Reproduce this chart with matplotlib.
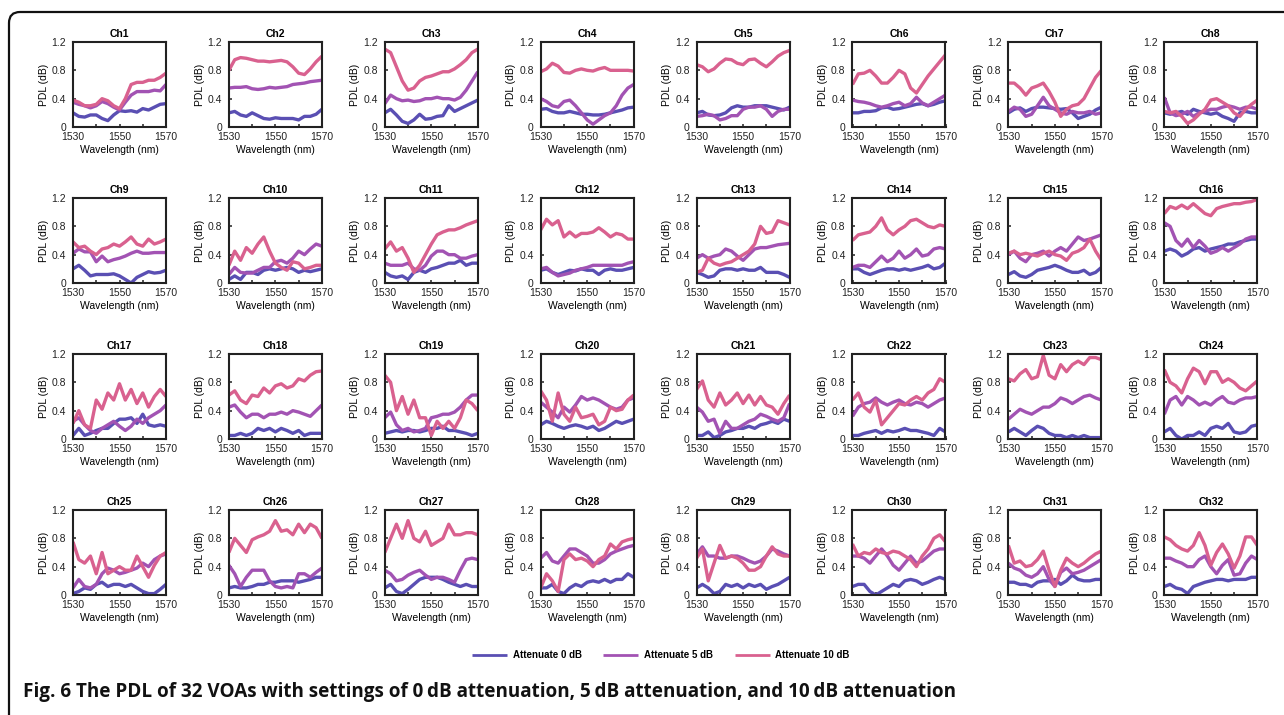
import matplotlib
matplotlib.use("Agg")
import matplotlib.pyplot as plt
from matplotlib.path import Path
from matplotlib.patches import PathPatch
from matplotlib.transforms import IdentityTransform

plt.rcParams["font.family"] = ["Liberation Sans", "DejaVu Sans"]

# sampled wavelengths (nm)
WAVELENGTH = [1530, 1532.5, 1535, 1537.5, 1540, 1542.5, 1545, 1547.5, 1550,
              1552.5, 1555, 1557.5, 1560, 1562.5, 1565, 1567.5, 1570]

CHANNELS = ["Ch%d" % i for i in range(1, 33)]
SERIES_LABELS = ["Attenuate 0 dB", "Attenuate 5 dB", "Attenuate 10 dB"]

# PDL (dB), attenuation 0 dB
PDL_0DB = [
    [.20, .15, .14, .17, .17, .12, .09, .17, .23, .22, .23, .21, .26, .24, .28, .32, .33],
    [.20, .22, .17, .15, .20, .16, .12, .11, .13, .12, .12, .12, .10, .15, .15, .18, .25],
    [.20, .25, .17, .08, .05, .10, .18, .11, .12, .15, .16, .30, .22, .26, .30, .34, .38],
    [.25, .26, .22, .20, .20, .22, .20, .18, .18, .17, .17, .18, .20, .22, .24, .27, .28],
    [.20, .22, .17, .16, .17, .20, .27, .30, .28, .28, .30, .30, .30, .28, .26, .24, .28],
    [.20, .20, .22, .22, .23, .27, .28, .25, .26, .28, .30, .32, .33, .30, .32, .35, .37],
    [.20, .25, .27, .22, .26, .28, .28, .27, .26, .25, .26, .20, .12, .15, .18, .24, .28],
    [.20, .18, .20, .22, .18, .25, .22, .20, .18, .20, .15, .12, .08, .20, .22, .20, .20],
    [.20, .25, .18, .10, .12, .12, .12, .13, .10, .05, .00, .08, .12, .16, .14, .15, .18],
    [.05, .10, .05, .15, .15, .12, .18, .20, .18, .20, .22, .20, .15, .18, .16, .18, .20],
    [.15, .10, .08, .10, .05, .15, .18, .15, .20, .22, .25, .28, .28, .32, .25, .28, .28],
    [.18, .20, .15, .12, .15, .18, .17, .20, .18, .18, .12, .18, .20, .18, .18, .20, .22],
    [.15, .12, .08, .10, .18, .20, .20, .18, .20, .18, .18, .22, .15, .15, .15, .12, .08],
    [.20, .20, .15, .12, .15, .18, .20, .20, .18, .20, .18, .20, .22, .25, .20, .22, .28],
    [.12, .16, .10, .08, .12, .18, .20, .22, .25, .22, .18, .15, .15, .18, .12, .15, .22],
    [.45, .48, .45, .38, .42, .48, .50, .45, .48, .50, .52, .55, .55, .58, .60, .62, .62],
    [.05, .15, .05, .08, .12, .15, .15, .22, .28, .28, .30, .22, .35, .20, .18, .20, .18],
    [.05, .05, .08, .05, .08, .15, .12, .15, .10, .15, .12, .08, .12, .05, .08, .08, .08],
    [.08, .10, .12, .10, .12, .12, .10, .12, .15, .15, .18, .12, .12, .10, .08, .05, .08],
    [.20, .25, .22, .18, .15, .18, .20, .18, .15, .18, .12, .15, .20, .25, .22, .25, .28],
    [.05, .05, .10, .02, .05, .10, .12, .15, .15, .18, .15, .20, .22, .25, .22, .28, .25],
    [.05, .05, .08, .10, .12, .08, .12, .10, .12, .15, .12, .12, .10, .08, .05, .15, .10],
    [.10, .15, .10, .05, .12, .18, .15, .08, .05, .05, .02, .05, .02, .05, .02, .02, .02],
    [.10, .15, .05, .00, .05, .05, .10, .05, .15, .18, .15, .22, .10, .08, .10, .18, .20],
    [.02, .05, .10, .08, .15, .18, .12, .15, .15, .12, .15, .10, .05, .02, .02, .08, .15],
    [.10, .12, .10, .10, .12, .15, .15, .18, .18, .20, .20, .20, .18, .20, .22, .25, .25],
    [.10, .15, .05, .02, .08, .15, .22, .25, .25, .25, .22, .18, .15, .12, .15, .12, .12],
    [.10, .10, .15, .05, .02, .10, .15, .12, .18, .20, .18, .22, .18, .22, .22, .30, .25],
    [.10, .15, .10, .02, .05, .15, .12, .15, .10, .15, .12, .15, .08, .12, .15, .20, .25],
    [.12, .15, .15, .05, .00, .05, .10, .15, .12, .20, .22, .20, .15, .18, .22, .25, .22],
    [.18, .18, .15, .15, .12, .18, .20, .20, .22, .15, .20, .28, .22, .20, .20, .22, .22],
    [.12, .15, .10, .08, .02, .12, .15, .18, .20, .22, .22, .20, .22, .22, .22, .25, .25],
]

# PDL (dB), attenuation 5 dB
PDL_5DB = [
    [.35, .32, .30, .27, .30, .36, .33, .28, .24, .35, .45, .50, .50, .50, .52, .51, .60],
    [.55, .56, .56, .57, .54, .53, .54, .56, .55, .56, .57, .60, .61, .62, .64, .65, .66],
    [.33, .45, .40, .37, .38, .36, .37, .40, .40, .42, .40, .40, .38, .42, .52, .65, .78],
    [.40, .36, .30, .28, .36, .38, .30, .20, .10, .04, .10, .16, .20, .30, .45, .55, .60],
    [.15, .16, .18, .16, .10, .12, .16, .16, .25, .28, .28, .30, .25, .15, .22, .25, .25],
    [.38, .36, .35, .33, .30, .28, .30, .33, .35, .30, .33, .42, .34, .30, .35, .40, .45],
    [.22, .28, .25, .15, .18, .30, .42, .30, .25, .20, .18, .22, .20, .20, .22, .18, .20],
    [.42, .20, .16, .18, .22, .15, .20, .22, .25, .25, .28, .30, .28, .25, .28, .28, .25],
    [.42, .48, .44, .44, .30, .38, .30, .33, .35, .38, .42, .45, .42, .42, .43, .43, .43],
    [.12, .22, .15, .14, .14, .18, .22, .22, .30, .32, .28, .35, .45, .40, .48, .55, .52],
    [.28, .25, .25, .25, .28, .20, .18, .25, .38, .45, .45, .40, .40, .35, .35, .38, .40],
    [.20, .22, .15, .10, .12, .14, .18, .20, .22, .25, .25, .25, .25, .25, .25, .28, .30],
    [.35, .40, .35, .38, .40, .48, .45, .38, .32, .40, .48, .50, .50, .52, .54, .55, .56],
    [.22, .25, .25, .22, .30, .38, .30, .35, .45, .35, .40, .48, .38, .40, .48, .50, .48],
    [.40, .45, .35, .30, .40, .42, .45, .38, .45, .50, .45, .55, .65, .60, .62, .65, .68],
    [.85, .80, .60, .52, .62, .50, .60, .52, .42, .45, .50, .45, .50, .55, .62, .65, .65],
    [.25, .30, .20, .12, .08, .15, .20, .25, .18, .12, .18, .28, .22, .30, .35, .40, .48],
    [.45, .48, .38, .30, .35, .35, .30, .35, .35, .38, .35, .40, .38, .35, .32, .40, .48],
    [.30, .38, .20, .12, .15, .10, .12, .15, .30, .32, .35, .35, .38, .45, .55, .62, .62],
    [.52, .45, .38, .30, .45, .38, .48, .60, .55, .58, .55, .50, .45, .42, .45, .55, .58],
    [.45, .38, .25, .28, .08, .25, .15, .15, .20, .25, .28, .35, .32, .28, .25, .30, .50],
    [.32, .45, .50, .52, .58, .52, .48, .52, .55, .50, .48, .52, .50, .45, .50, .55, .58],
    [.28, .35, .42, .38, .35, .40, .45, .45, .50, .58, .55, .50, .55, .60, .62, .58, .55],
    [.35, .55, .60, .48, .60, .55, .48, .52, .48, .55, .60, .52, .50, .55, .58, .58, .60],
    [.10, .22, .12, .10, .15, .30, .38, .35, .30, .32, .35, .38, .45, .40, .50, .55, .58],
    [.42, .30, .12, .25, .35, .35, .35, .20, .12, .10, .12, .10, .30, .30, .25, .32, .38],
    [.35, .30, .20, .22, .28, .32, .35, .28, .22, .25, .25, .22, .18, .35, .50, .52, .50],
    [.52, .60, .48, .45, .55, .65, .65, .60, .55, .45, .45, .50, .58, .62, .65, .68, .70],
    [.58, .68, .55, .55, .52, .52, .55, .55, .52, .48, .45, .48, .55, .65, .62, .58, .55],
    [.55, .55, .52, .45, .55, .65, .55, .42, .35, .45, .55, .45, .48, .55, .62, .65, .65],
    [.45, .38, .35, .28, .25, .30, .40, .22, .12, .32, .38, .30, .32, .35, .40, .45, .50],
    [.52, .52, .48, .45, .40, .40, .50, .55, .40, .30, .42, .50, .28, .30, .45, .55, .50],
]

# PDL (dB), attenuation 10 dB
PDL_10DB = [
    [.38, .35, .30, .30, .32, .40, .37, .30, .26, .40, .60, .63, .63, .66, .66, .70, .76],
    [.80, .95, .98, .97, .95, .93, .93, .92, .93, .94, .92, .85, .76, .74, .82, .92, 1.0],
    [1.10, 1.05, .85, .65, .52, .55, .65, .70, .72, .75, .78, .78, .82, .88, .95, 1.05, 1.10],
    [.78, .82, .90, .86, .77, .76, .80, .82, .80, .79, .82, .84, .80, .80, .80, .80, .79],
    [.88, .85, .78, .82, .90, .96, .95, .90, .88, .95, .96, .90, .85, .92, 1.0, 1.05, 1.08],
    [.60, .75, .76, .80, .72, .62, .62, .70, .80, .75, .55, .48, .60, .72, .82, .92, 1.02],
    [.62, .62, .55, .45, .55, .58, .62, .50, .35, .15, .25, .30, .32, .40, .55, .70, .80],
    [.22, .20, .22, .15, .05, .10, .18, .25, .38, .40, .35, .30, .20, .15, .25, .32, .38],
    [.58, .50, .52, .45, .40, .48, .50, .55, .52, .58, .65, .55, .52, .62, .55, .58, .62],
    [.25, .45, .32, .50, .42, .55, .65, .45, .28, .22, .18, .30, .28, .20, .22, .25, .25],
    [.48, .58, .45, .50, .35, .15, .25, .40, .55, .68, .72, .75, .75, .78, .82, .85, .88],
    [.75, .90, .82, .88, .65, .72, .65, .70, .70, .72, .78, .72, .65, .70, .68, .62, .62],
    [.15, .18, .35, .28, .25, .28, .30, .35, .40, .45, .55, .80, .70, .72, .88, .85, .82],
    [.60, .68, .70, .72, .80, .92, .75, .68, .75, .80, .88, .90, .85, .80, .78, .82, .80],
    [.42, .45, .40, .42, .40, .38, .42, .45, .40, .38, .32, .42, .45, .50, .62, .45, .32],
    [.98, 1.08, 1.05, 1.10, 1.05, 1.12, 1.05, .98, .95, 1.05, 1.08, 1.10, 1.12, 1.12, 1.14, 1.15, 1.18],
    [.22, .40, .20, .15, .55, .42, .65, .55, .78, .55, .70, .50, .65, .45, .60, .70, .60],
    [.62, .68, .55, .50, .62, .60, .72, .65, .75, .78, .72, .75, .85, .82, .90, .95, .96],
    [.90, .80, .40, .60, .35, .55, .30, .30, .05, .25, .15, .25, .15, .30, .55, .50, .40],
    [.68, .55, .25, .65, .35, .25, .45, .30, .32, .35, .20, .25, .45, .40, .42, .55, .62],
    [.70, .82, .55, .45, .65, .48, .55, .65, .50, .62, .48, .60, .48, .45, .35, .50, .62],
    [.55, .65, .45, .38, .55, .20, .30, .40, .50, .48, .55, .60, .55, .65, .70, .85, .80],
    [.85, .82, .92, .98, .85, .88, 1.18, .90, .85, 1.05, .95, 1.05, 1.10, 1.05, 1.15, 1.15, 1.12],
    [.98, .80, .75, .65, .85, 1.0, .95, .78, .95, .95, .80, .85, .80, .72, .68, .75, .82],
    [.75, .50, .45, .55, .30, .60, .30, .35, .40, .35, .35, .55, .40, .25, .42, .55, .60],
    [.60, .80, .70, .60, .78, .82, .85, .90, 1.05, .90, .92, .85, 1.0, .88, 1.0, .95, .80],
    [.60, .80, 1.0, .80, 1.05, .80, .75, .90, .70, .75, .80, 1.0, .85, .85, .88, .88, .85],
    [.10, .30, .20, .05, .50, .58, .50, .52, .48, .40, .50, .55, .72, .65, .75, .78, .80],
    [.52, .65, .20, .45, .70, .52, .55, .52, .45, .35, .35, .40, .55, .68, .58, .55, .55],
    [.72, .55, .60, .58, .65, .60, .58, .62, .60, .55, .50, .40, .55, .65, .80, .85, .75],
    [.70, .45, .48, .40, .42, .50, .62, .35, .12, .35, .52, .45, .40, .45, .52, .58, .62],
    [.82, .78, .70, .65, .62, .70, .88, .70, .42, .60, .72, .58, .38, .55, .82, .82, .70],
]

COLORS = ["#5a4fb3", "#a253b3", "#d9618f"]
XTICKS = [1530, 1540, 1550, 1560, 1570]
XTICKLABELS = ["1530", "", "1550", "", "1570"]
YTICKS = [0, 0.4, 0.8, 1.2]
YTICKLABELS = ["0", "0.4", "0.8", "1.2"]

W, H = 1284, 715
fig = plt.figure(figsize=(W / 100, H / 100), dpi=100)

# panel geometry in pixels
AX_W, AX_H = 93, 85
COL_X0, COL_DX = 73, 155.9
ROW_Y0, ROW_DY = 42, 156

lines = []
for i, name in enumerate(CHANNELS):
    row, col = divmod(i, 8)
    left = COL_X0 + col * COL_DX
    top = ROW_Y0 + row * ROW_DY
    ax = fig.add_axes([left / W, 1 - (top + AX_H) / H, AX_W / W, AX_H / H])
    for data, c in zip((PDL_0DB, PDL_5DB, PDL_10DB), COLORS):
        ln, = ax.plot(WAVELENGTH, data[i], color=c, lw=2.4, solid_joinstyle="round",
                      solid_capstyle="butt")
        if i == 0:
            lines.append(ln)
    ax.set_xlim(1530, 1570)
    ax.set_ylim(0, 1.2)
    ax.set_xticks(XTICKS)
    ax.set_xticklabels(XTICKLABELS)
    ax.set_yticks(YTICKS)
    ax.set_yticklabels(YTICKLABELS)
    ax.tick_params(direction="in", length=2.5, width=1.1, labelsize=7.5, colors="#222222")
    ax.tick_params(axis="x", pad=3.5)
    ax.tick_params(axis="y", pad=5)
    for sp in ax.spines.values():
        sp.set_linewidth(1.5)
        sp.set_color("#222222")
    ax.set_title(name, fontsize=7.5, fontweight="bold", pad=3.5)
    ax.set_xlabel("Wavelength (nm)", fontsize=7.5, labelpad=2)
    ax.set_ylabel("PDL (dB)", fontsize=7.5, labelpad=2)

leg = fig.legend(lines, SERIES_LABELS, loc="center", bbox_to_anchor=(661 / W, 1 - 655 / H),
                 ncol=3, frameon=False, handlelength=3.6, columnspacing=2.2,
                 handletextpad=0.6, prop={"weight": "bold", "size": 7})
for lh in leg.get_lines():
    lh.set_linewidth(2.0)

# frame around the figure (left and top edges visible, rounded corner)
r = 11
x0, y0 = 9, H - 12
verts = [(x0, -20), (x0, y0 - r), (x0, y0), (x0 + r, y0), (W + 20, y0)]
codes = [Path.MOVETO, Path.LINETO, Path.CURVE3, Path.CURVE3, Path.LINETO]
fig.add_artist(PathPatch(Path(verts, codes), transform=IdentityTransform(),
                         fill=False, lw=1.6, edgecolor="#111111"))

fig.text(23 / W, 1 - 692 / H,
         "Fig. 6 The PDL of 32 VOAs with settings of 0\u2009dB attenuation, "
         "5\u2009dB attenuation, and 10\u2009dB attenuation",
         family=["Open Sans", "DejaVu Sans"], fontweight="bold", fontsize=13.6,
         va="center", ha="left", color="#111111")

fig.savefig("out.png", dpi=100)
